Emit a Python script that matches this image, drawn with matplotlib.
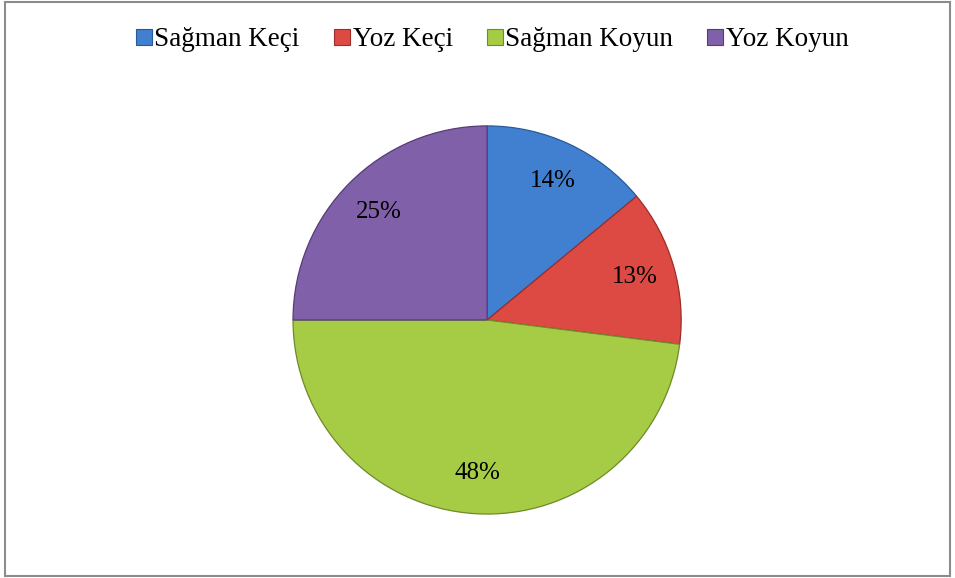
import matplotlib.pyplot as plt
from matplotlib.lines import Line2D
from matplotlib.patches import Rectangle

labels = ['Sağman Keçi', 'Yoz Keçi', 'Sağman Koyun', 'Yoz Koyun']
shares = [14, 13, 48, 25]
colors = ['#4180d0', '#dd4a44', '#a6cb45', '#8160aa']
edges = ['#2a5a95', '#9a2e2a', '#6f8a2a', '#553c75']

plt.rcParams['font.family'] = ['Liberation Serif', 'DejaVu Serif']

fig = plt.figure(figsize=(9.55, 5.78), dpi=100)

# outer frame like the Excel chart area
fig.patches.append(Rectangle((5 / 955, 2 / 578), 945 / 955, 574 / 578,
                             transform=fig.transFigure, fill=False,
                             edgecolor='#8c8c8c', linewidth=1.5))

ax = fig.add_axes([0.510 - 0.2052, 0.4464 - 0.3391, 0.4105, 0.6782])
wedges, texts, autotexts = ax.pie(
    shares, colors=colors, startangle=90, counterclock=False,
    autopct='%d%%', pctdistance=0.79, radius=1.0,
    wedgeprops=dict(linewidth=0.9),
    textprops=dict(fontsize=18, color='black'))
for w, ec in zip(wedges, edges):
    w.set_edgecolor(ec)
ax.set_xlim(-1.01, 1.01)
ax.set_ylim(-1.01, 1.01)
ax.set_aspect('auto')
ax.axis('off')

handles = [Line2D([], [], marker='s', linestyle='none', markersize=11,
                  markerfacecolor=c, markeredgecolor=e, markeredgewidth=0.8)
           for c, e in zip(colors, edges)]
fig.legend(handles, labels, loc='center', bbox_to_anchor=(0.514, 1 - 40 / 578),
           ncol=4, frameon=False, fontsize=19.5, handletextpad=0.0,
           columnspacing=1.15, handlelength=0.8)

fig.savefig('out.png', dpi=100)
